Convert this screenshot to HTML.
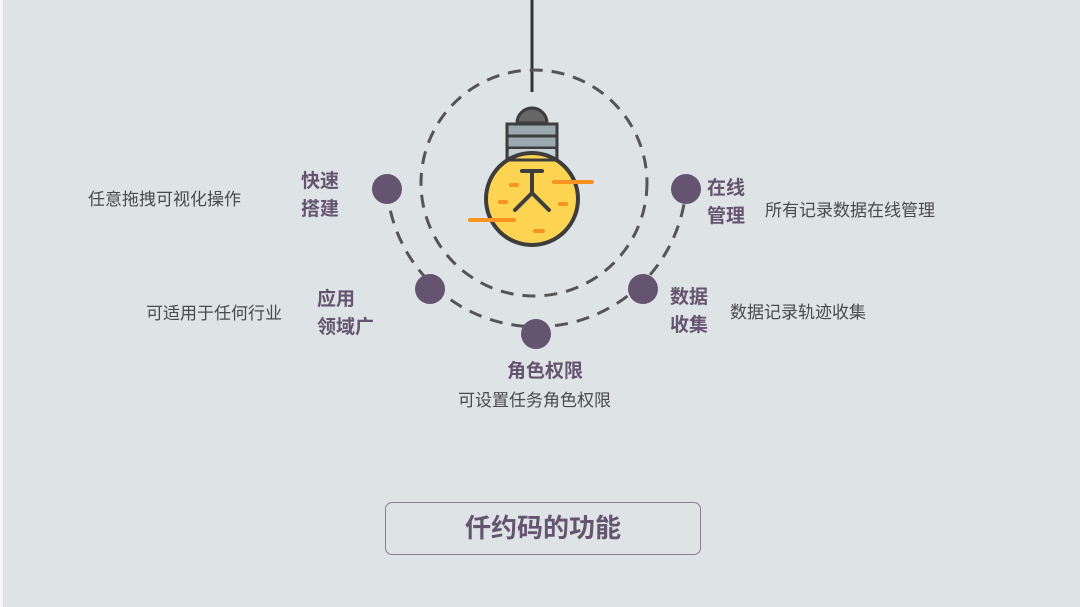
<!DOCTYPE html>
<html><head><meta charset="utf-8"><style>
html,body{margin:0;padding:0;}
body{width:1080px;height:607px;background:#dee3e6;position:relative;overflow:hidden;font-family:"Liberation Sans","Noto Sans CJK SC",sans-serif;}
.t{position:absolute;color:#65546f;font-weight:bold;font-size:19px;line-height:28px;}
.d{position:absolute;color:#4a4a4a;font-size:17px;line-height:22px;white-space:nowrap;}
.box{position:absolute;left:385px;top:502px;width:316px;height:53px;border:1.5px solid #8a7f90;border-radius:7px;box-sizing:border-box;text-align:center;line-height:50px;color:#65546f;font-weight:bold;font-size:26px;}
</style></head><body>
<div style="position:absolute;left:0;top:0;width:3px;height:607px;background:#f4f6f7"></div>
<svg width="1080" height="607" style="position:absolute;left:0;top:0">
<line x1="532" y1="0" x2="532" y2="92" stroke="#333" stroke-width="3"/>
<circle cx="534" cy="183" r="113" fill="none" stroke="#555" stroke-width="3" stroke-dasharray="13 9"/>
<path d="M387 189 A150 150 0 0 0 686 189" fill="none" stroke="#555" stroke-width="3" stroke-dasharray="13 9"/>
<path d="M517 123 A15 15 0 0 1 547 123 Z" fill="#666" stroke="#3d3d3d" stroke-width="3"/>
<rect x="507" y="124" width="50" height="36" fill="#9aa9b0" stroke="#3d3d3d" stroke-width="3"/>
<line x1="507" y1="136" x2="557" y2="136" stroke="#3d3d3d" stroke-width="3"/>
<line x1="507" y1="148" x2="557" y2="148" stroke="#3d3d3d" stroke-width="3"/>
<rect x="509" y="149" width="46" height="10" fill="#c5d0d4"/>
<circle cx="532" cy="199" r="46" fill="#fdd352" stroke="#3d3d3d" stroke-width="4"/>
<rect x="507" y="124" width="50" height="36" fill="none" stroke="#3d3d3d" stroke-width="3"/>
<line x1="522" y1="171" x2="542" y2="171" stroke="#3d3d3d" stroke-width="4" stroke-linecap="round"/>
<line x1="532" y1="171" x2="532" y2="193" stroke="#3d3d3d" stroke-width="4"/>
<line x1="532" y1="193" x2="515" y2="210" stroke="#3d3d3d" stroke-width="4" stroke-linecap="round"/>
<line x1="532" y1="193" x2="549" y2="210" stroke="#3d3d3d" stroke-width="4" stroke-linecap="round"/>
<g stroke="#f7931e" stroke-width="4" stroke-linecap="round">
<line x1="554" y1="182" x2="592" y2="182"/>
<line x1="470" y1="220" x2="514" y2="220"/>
<line x1="511" y1="185" x2="517" y2="185"/>
<line x1="500" y1="202" x2="506" y2="202"/>
<line x1="560" y1="204" x2="566" y2="204"/>
<line x1="535" y1="231" x2="543" y2="231"/>
</g>
<g fill="#65546f">
<circle cx="387" cy="189" r="15"/>
<circle cx="430" cy="289" r="15"/>
<circle cx="536" cy="334" r="15"/>
<circle cx="643" cy="289" r="15"/>
<circle cx="686" cy="189" r="15"/>
</g>
</svg>
<div class="t" style="left:301px;top:168px">快速<br>搭建</div>
<div class="d" style="left:88px;top:189px">任意拖拽可视化操作</div>
<div class="t" style="left:317px;top:286px">应用<br>领域广</div>
<div class="d" style="left:146px;top:303px">可适用于任何行业</div>
<div class="t" style="left:707px;top:175px">在线<br>管理</div>
<div class="d" style="left:765px;top:200px">所有记录数据在线管理</div>
<div class="t" style="left:670px;top:284px">数据<br>收集</div>
<div class="d" style="left:730px;top:302px">数据记录轨迹收集</div>
<div class="t" style="left:507px;top:358px">角色权限</div>
<div class="d" style="left:458px;top:390px">可设置任务角色权限</div>
<div class="box">仟约码的功能</div>
</body></html>
